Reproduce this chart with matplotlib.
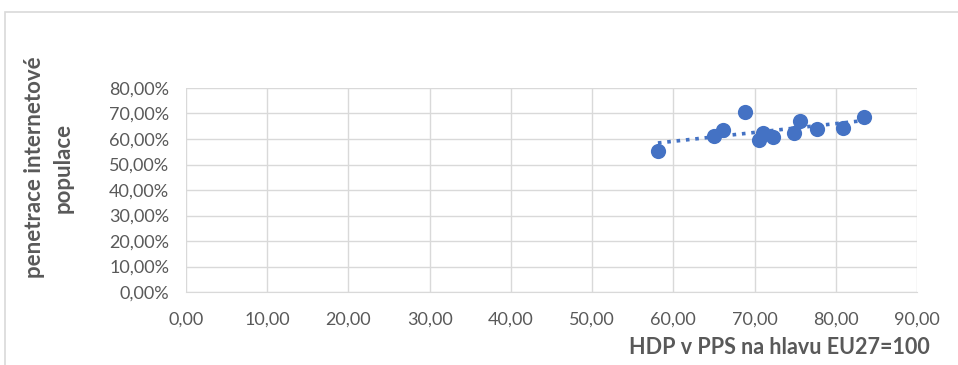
import numpy as np
import matplotlib.pyplot as plt
from matplotlib.patches import Rectangle
from matplotlib.ticker import FuncFormatter, MultipleLocator

plt.rcParams['font.family'] = ['Lato', 'DejaVu Sans']

# HDP na hlavu (EU27=100) a penetrace internetove populace (%)
hdp = [58.1, 65.0, 66.1, 68.8, 70.6, 71.1, 72.3, 74.8, 75.6, 77.7, 80.9, 83.5]
penetrace = [55.3, 61.0, 63.5, 70.6, 59.6, 62.4, 60.6, 62.4, 67.1, 63.9, 64.3, 68.6]

blue = '#4472C4'
grid = '#d9d9d9'
text = '#595959'

fig = plt.figure(figsize=(9.58, 3.65), dpi=100)
fig.patches.append(Rectangle((5 / 958, -0.1), 1.2, 1 - 12 / 365 + 0.1,
                             transform=fig.transFigure, fill=False,
                             edgecolor=grid, linewidth=1.2))

ax = fig.add_axes([186 / 958, 1 - 292 / 365, (917 - 186) / 958, (292 - 88) / 365])

ax.scatter(hdp, penetrace, s=120, color=blue, zorder=3, linewidths=0)

# linearni trend
k, q = np.polyfit(hdp, penetrace, 1)
xs = np.array([min(hdp), max(hdp)])
ax.plot(xs, k * xs + q, color=blue, linestyle=(0, (1, 1.6)), linewidth=2.6,
        zorder=2)

ax.set_xlim(0, 90)
ax.set_ylim(0, 80)
ax.xaxis.set_major_locator(MultipleLocator(10))
ax.yaxis.set_major_locator(MultipleLocator(10))
ax.xaxis.set_major_formatter(FuncFormatter(lambda v, p: f'{v:.2f}'.replace('.', ',')))
ax.yaxis.set_major_formatter(FuncFormatter(lambda v, p: f'{v:.2f}%'.replace('.', ',')))
ax.grid(True, color=grid, linewidth=1)
ax.set_axisbelow(True)
for side in ['top', 'right', 'left']:
    ax.spines[side].set_visible(False)
ax.spines['bottom'].set_color(grid)
ax.tick_params(length=0, labelsize=13, labelcolor=text, pad=12)
ax.tick_params(axis='x', pad=14)

ax.set_xlabel('HDP v PPS na hlavu EU27=100', fontsize=15.5, fontweight='bold',
              color=text, ha='right')
ax.xaxis.set_label_coords(1.017, -0.22)
ax.set_ylabel('penetrace internetové\npopulace', fontsize=16, fontweight='bold',
              color=text, linespacing=1.45)
ax.yaxis.set_label_coords(-0.154, 0.61)

fig.savefig('out.png', dpi=100)
